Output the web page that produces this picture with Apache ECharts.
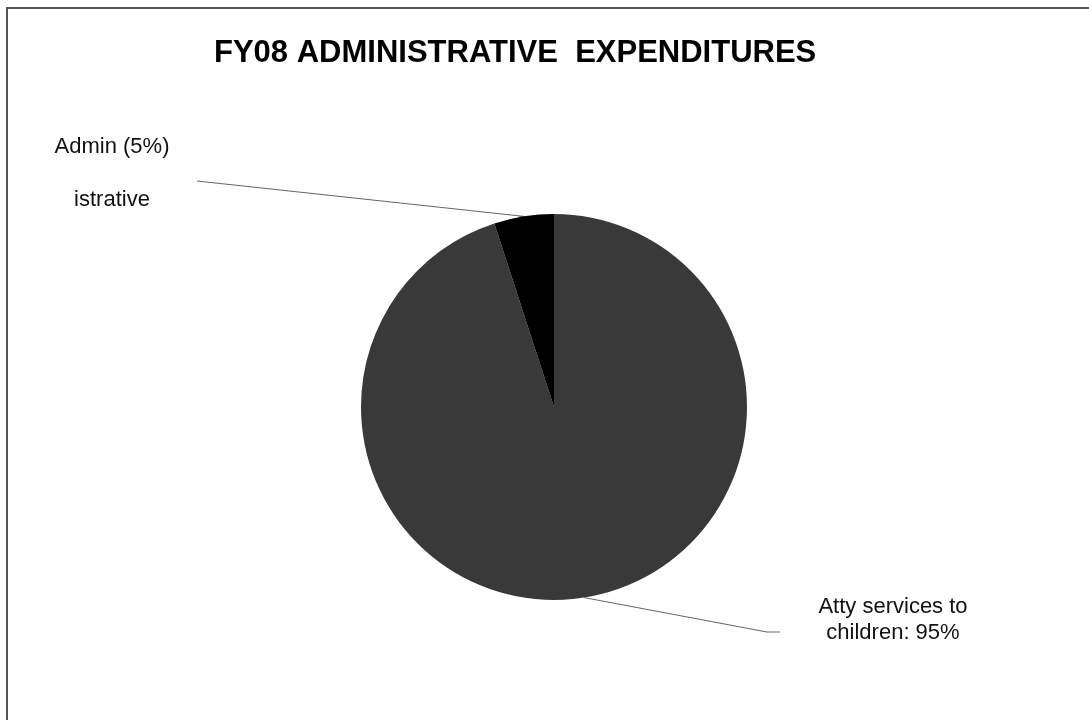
<!DOCTYPE html>
<html><head><meta charset="utf-8">
<script src="https://cdn.jsdelivr.net/npm/echarts@6/dist/echarts.min.js"></script>
<style>html,body{margin:0;padding:0;background:#fff}#c{width:1089px;height:720px}</style>
</head><body><div id="c"></div>
<script>
const titleText = 'FY08 ADMINISTRATIVE  EXPENDITURES';
const categories = ['Atty services to children', 'Administrative'];
const values = [95, 5];
const labelTexts = ['Atty services to\nchildren: 95%', 'Admin (5%)\n\nistrative'];
const sliceColors = ['#393939', '#000000'];

const labelPlacement = [
  { x: 893, y: 620, guide: [[767, 632], [780, 632]] },
  { x: 112, y: 173.5, guide: [[197, 181]] }
];

const chart = echarts.init(document.getElementById('c'), null, { renderer: 'canvas' });
chart.setOption({
  animation: false,
  backgroundColor: '#ffffff',
  title: {
    text: titleText,
    left: 214,
    top: 38,
    padding: 0,
    textStyle: { fontFamily: 'Liberation Sans, Arial, sans-serif', fontWeight: 'bold', fontSize: 31, color: '#000' }
  },
  graphic: [{
    type: 'rect', silent: true, z: -1,
    shape: { x: 7, y: 8, width: 1300, height: 900 },
    style: { fill: 'none', stroke: '#555', lineWidth: 2 }
  }],
  series: [{
    type: 'pie',
    center: [554, 407],
    radius: 193,
    startAngle: 90,
    clockwise: true,
    avoidLabelOverlap: false,
    itemStyle: { borderWidth: 0 },
    label: {
      show: true,
      fontFamily: 'Liberation Sans, Arial, sans-serif',
      fontSize: 22,
      lineHeight: 26.5,
      color: '#111',
      formatter: p => labelTexts[p.dataIndex]
    },
    labelLine: { show: true, smooth: false, lineStyle: { color: '#666', width: 1 } },
    labelLayout: function (params) {
      const lp = labelPlacement[params.dataIndex];
      const start = params.labelLinePoints ? params.labelLinePoints[0] : null;
      const res = { x: lp.x, y: lp.y, align: 'center', verticalAlign: 'middle' };
      if (start) res.labelLinePoints = [start].concat(lp.guide);
      return res;
    },
    data: categories.map((c, i) => ({ name: c, value: values[i], itemStyle: { color: sliceColors[i] } }))
  }]
});
</script></body></html>
